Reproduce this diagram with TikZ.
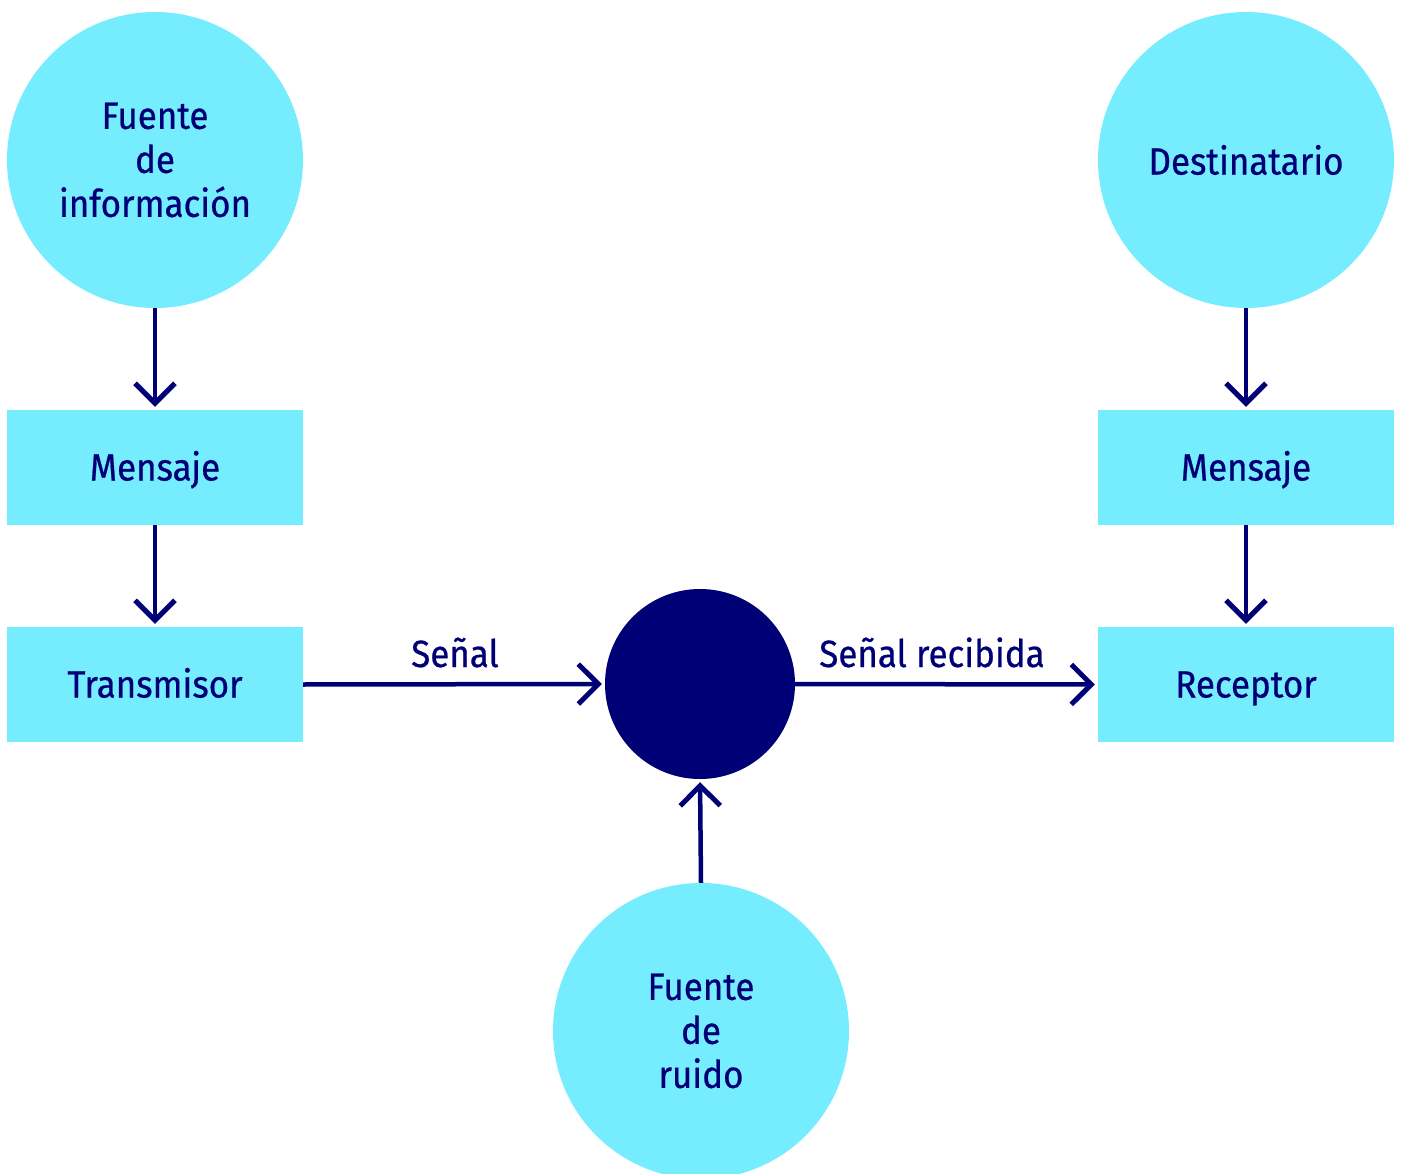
\documentclass[tikz,border=0pt]{standalone}
\usepackage{fontspec}
\setmainfont{Fira Sans}[FakeStretch=0.92,FakeBold=0.6]
\usetikzlibrary{arrows.meta}
\definecolor{cyanfill}{RGB}{118,237,255}
\definecolor{navy}{RGB}{0,0,118}
\begin{document}
\begin{tikzpicture}[x=1pt,y=-1pt,
  txt/.style={text=navy,font=\fontsize{38}{44}\selectfont},
  bigcirc/.style={circle,fill=cyanfill,minimum size=296pt,inner sep=0pt,align=center,txt},
  box/.style={rectangle,fill=cyanfill,minimum width=296pt,minimum height=115pt,inner sep=0pt,text height=34pt,text depth=8pt,txt},
  hubstyle/.style={circle,fill=navy,minimum size=190pt,inner sep=0pt},
  conn/.style={draw=navy,line width=4.5pt,-{Straight Barb[length=20pt,width=40pt,line width=5pt]},shorten >=3pt},
  lbl/.style={txt,anchor=base,inner sep=0pt}]
\useasboundingbox (0,0) rectangle (1401,1174);
\node[bigcirc] (fi) at (155,160) {Fuente\\de\\información};
\node[box] (m1) at (155,467.5) {Mensaje};
\node[box] (tx) at (155,684.5) {Transmisor};
\node[bigcirc] (dest) at (1246,160) {Destinatario};
\node[box] (m2) at (1246,467.5) {Mensaje};
\node[box] (rc) at (1246,684.5) {Receptor};
\node[hubstyle] (hub) at (700,684) {};
\node[bigcirc] (noise) at (701,1031) {Fuente\\de\\ruido};
\draw[conn] (fi.south) -- (m1.north);
\draw[conn] (m1.south) -- (tx.north);
\draw[conn] (dest.south) -- (m2.north);
\draw[conn] (m2.south) -- (rc.north);
\draw[conn] (tx.east) -- (hub.west);
\draw[conn] (hub.east) -- (rc.west);
\draw[conn] (noise.north) -- (hub.south);
\node[lbl] (l1) at (455,667) {Señal};
\node[lbl] (l2) at (932,667) {Señal recibida};
\end{tikzpicture}
\end{document}
